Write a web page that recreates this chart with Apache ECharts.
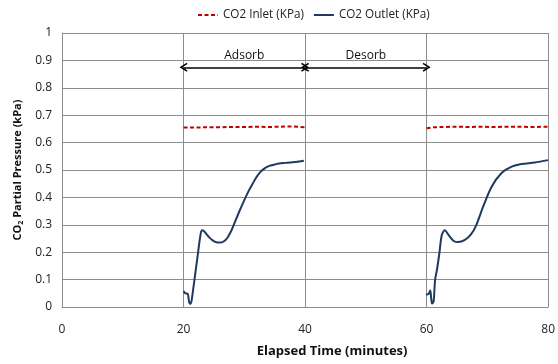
<!DOCTYPE html>
<html>
<head>
<meta charset="utf-8">
<script src="https://cdn.jsdelivr.net/npm/echarts@6/dist/echarts.min.js"></script>
<style>html,body{margin:0;padding:0;background:#fff}#c{width:558px;height:364px}</style>
</head>
<body>
<div id="c"></div>
<script>
// ---- data ----
const xTicks = [0, 20, 40, 60, 80];
const inletTime1 = [20, 22, 24, 26, 28, 30, 32, 34, 36, 38, 40];
const inletVal1  = [0.655, 0.655, 0.656, 0.656, 0.657, 0.657, 0.658, 0.657, 0.658, 0.659, 0.656];
const inletTime2 = [60, 61, 63, 65, 67, 69, 71, 73, 75, 77, 80];
const inletVal2  = [0.652, 0.656, 0.657, 0.658, 0.657, 0.658, 0.657, 0.658, 0.658, 0.657, 0.658];

const outletTime1 = [20.0, 20.3, 20.7, 20.9, 21.1, 21.3, 21.5, 21.8, 22.1, 22.4, 22.7, 23.0, 23.3, 23.7, 24.2, 24.8, 25.4, 26.0, 26.6, 27.2, 27.9, 28.6, 29.3, 30.0, 30.7, 31.4, 32.0, 32.7, 33.4, 34.1, 35.0, 35.7, 36.8, 37.9, 39.0, 39.8];
const outletVal1  = [0.058, 0.05, 0.048, 0.02, 0.011, 0.02, 0.05, 0.10, 0.15, 0.20, 0.25, 0.28, 0.278, 0.268, 0.255, 0.243, 0.236, 0.235, 0.239, 0.252, 0.28, 0.318, 0.355, 0.39, 0.423, 0.451, 0.474, 0.494, 0.507, 0.515, 0.52, 0.524, 0.526, 0.528, 0.531, 0.534];
const outletTime2 = [59.9, 60.3, 60.6, 60.75, 60.9, 61.15, 61.4, 61.7, 62.1, 62.5, 63.0, 63.6, 64.4, 65.2, 66.3, 67.3, 68.2, 69.3, 70.7, 72.3, 74.0, 75.6, 77.8, 80.0];
const outletVal2  = [0.046, 0.047, 0.06, 0.032, 0.013, 0.02, 0.10, 0.135, 0.196, 0.263, 0.28, 0.263, 0.242, 0.237, 0.245, 0.265, 0.30, 0.366, 0.439, 0.488, 0.512, 0.522, 0.527, 0.536];

const phases = [
  {name: 'Adsorb', from: 20, to: 40},
  {name: 'Desorb', from: 40, to: 60}
];
const arrowLevel = 0.875;

// ---- build series data (gap between the two cycles) ----
function pairs(t, v) { return t.map((x, i) => [x, v[i]]); }
const gap = [[50, '-']];
const inletData = pairs(inletTime1, inletVal1).concat(gap, pairs(inletTime2, inletVal2));
const outletData = pairs(outletTime1, outletVal1).concat(gap, pairs(outletTime2, outletVal2));

const FONT = '"Open Sans", "Noto Sans", sans-serif';
const chevron = 'path://M5,0 L10,8 L8.6,9 L5,3.2 L1.4,9 L0,8 Z';

const chart = echarts.init(document.getElementById('c'), null, {renderer: 'canvas'});
chart.setOption({
  animation: false,
  textStyle: {fontFamily: FONT},
  legend: {
    top: 4, left: 192,
    itemWidth: 20, itemHeight: 10, itemGap: 9,
    itemStyle: {opacity: 0},
    textStyle: {fontSize: 11.7, color: '#222', fontFamily: FONT},
    data: ['CO2 Inlet (KPa)', 'CO2 Outlet (KPa)']
  },
  grid: {left: 62, right: 8, top: 33, bottom: 57, containLabel: false},
  xAxis: {
    type: 'value', min: xTicks[0], max: xTicks[xTicks.length - 1], interval: 20,
    name: 'Elapsed Time (minutes)', nameLocation: 'middle', nameGap: 38,
    nameTextStyle: {fontSize: 13, fontWeight: 'bold', color: '#111', fontFamily: FONT, padding: [0, 0, 0, 54]},
    axisLine: {show: true, lineStyle: {color: '#8c8c8c', width: 1}},
    axisTick: {show: false},
    axisLabel: {margin: 17, fontSize: 12, color: '#222', fontFamily: FONT},
    splitLine: {show: true, lineStyle: {color: '#8c8c8c', width: 1}}
  },
  yAxis: {
    type: 'value', min: 0, max: 1, interval: 0.1,
    name: 'CO{sub|2} Partial Pressure (kPa)', nameLocation: 'middle', nameGap: 38,
    nameTextStyle: {fontSize: 11, fontWeight: 'bold', color: '#111', fontFamily: FONT,
      rich: {sub: {fontSize: 7, fontWeight: 'bold', verticalAlign: 'bottom', padding: [6, 0, 0, 0], fontFamily: FONT, color: '#111'}}},
    axisLine: {show: true, lineStyle: {color: '#8c8c8c', width: 1}},
    axisTick: {show: false},
    axisLabel: {margin: 10, fontSize: 12, color: '#222', fontFamily: FONT,
      formatter: v => String(Math.round(v * 10) / 10)},
    splitLine: {show: true, lineStyle: {color: '#8c8c8c', width: 1}}
  },
  series: [
    {
      name: 'CO2 Inlet (KPa)', type: 'line', data: inletData,
      symbol: 'none', showSymbol: false, connectNulls: false,
      lineStyle: {color: '#c00000', width: 2, type: [4, 2.5]},
      itemStyle: {color: '#c00000'},
      markLine: {
        silent: true, symbol: [chevron, chevron], symbolSize: [9, 8],
        lineStyle: {color: '#000', width: 1.6, type: 'solid'},
        label: {show: true, position: 'middle', distance: 6, fontSize: 12, color: '#111', fontFamily: FONT,
          formatter: p => p.name},
        data: phases.map(p => [
          {name: p.name, coord: [p.from, arrowLevel]},
          {coord: [p.to, arrowLevel]}
        ])
      }
    },
    {
      name: 'CO2 Outlet (KPa)', type: 'line', data: outletData,
      symbol: 'none', showSymbol: false, connectNulls: false, smooth: 0.3,
      lineStyle: {color: '#1f3a60', width: 2},
      itemStyle: {color: '#1f3a60'}
    }
  ]
});
</script>
</body>
</html>
